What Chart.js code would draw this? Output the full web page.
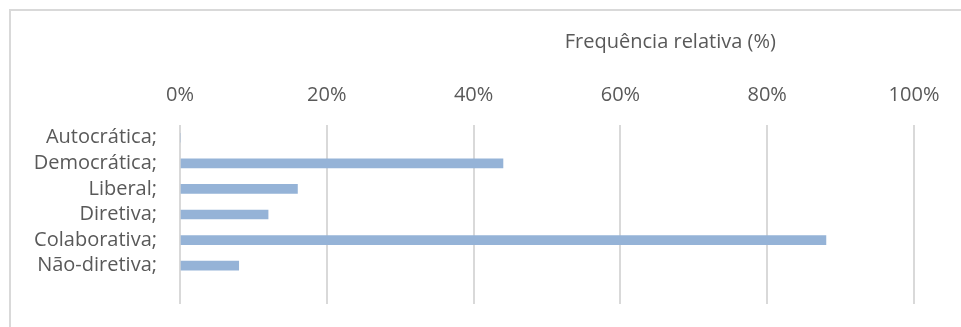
<!DOCTYPE html>
<html>
<head>
<meta charset="utf-8">
<script src="https://cdn.jsdelivr.net/npm/chart.js@4"></script>
<style>
  html, body { margin: 0; padding: 0; background: #fff; }
  #wrap { position: relative; width: 961px; height: 327px; overflow: hidden; }
  #frame { position: absolute; left: 9px; top: 9px; width: 1000px; height: 400px;
           border-top: 2px solid #d9d9d9; border-left: 2px solid #d9d9d9; }
  #chart { position: absolute; left: 0; top: 0; }
</style>
</head>
<body>
<div id="wrap">
  <div id="frame"></div>
  <canvas id="chart" width="961" height="327"></canvas>
</div>
<script>
// categorias (a última fica vazia, como no original)
const categories = ['Autocrática;', 'Democrática;', 'Liberal;', 'Diretiva;', 'Colaborativa;', 'Não-diretiva;', ''];
const frequencia = [0, 44, 16, 12, 88, 8, null];
const xTicks = [0, 20, 40, 60, 80, 100];
const axisTitle = 'Frequência relativa (%)';

const fontFamily = "'Open Sans', Lato, sans-serif";
const fontSize = 20;
const textColor = '#595959';

// título do eixo desenhado à mão (não está centrado na área do gráfico)
const titlePlugin = {
  id: 'axisTitle',
  afterDraw(chart) {
    const ctx = chart.ctx;
    const x = chart.scales.x.getPixelForValue(66.8);
    ctx.save();
    ctx.font = fontSize + 'px ' + fontFamily;
    ctx.fillStyle = textColor;
    ctx.textAlign = 'center';
    ctx.textBaseline = 'middle';
    ctx.fillText(axisTitle, x, 42);
    ctx.restore();
  }
};

new Chart(document.getElementById('chart'), {
  type: 'bar',
  data: {
    labels: categories,
    datasets: [{
      data: frequencia,
      backgroundColor: '#95b3d7',
      barThickness: 9
    }]
  },
  options: {
    indexAxis: 'y',
    responsive: false,
    animation: false,
    layout: { padding: { top: 65, right: 47, bottom: 23, left: 0 } },
    plugins: { legend: { display: false }, tooltip: { enabled: false } },
    scales: {
      x: {
        position: 'top',
        min: 0,
        max: 100,
        afterBuildTicks(axis) { axis.ticks = xTicks.map(v => ({ value: v })); },
        grid: { color: '#d9d9d9', lineWidth: 2, drawTicks: false },
        border: { display: false },
        ticks: {
          padding: 18,
          color: textColor,
          font: { family: fontFamily, size: fontSize },
          callback: v => v + '%'
        }
      },
      y: {
        afterFit(axis) {
          axis.width = 180;
          axis.paddingTop = 0;
          axis.paddingBottom = 0;
        },
        grid: { display: false },
        border: { display: false },
        ticks: {
          padding: 15,
          autoSkip: false,
          color: textColor,
          font: { family: fontFamily, size: fontSize }
        }
      }
    }
  },
  plugins: [titlePlugin]
});
</script>
</body>
</html>
